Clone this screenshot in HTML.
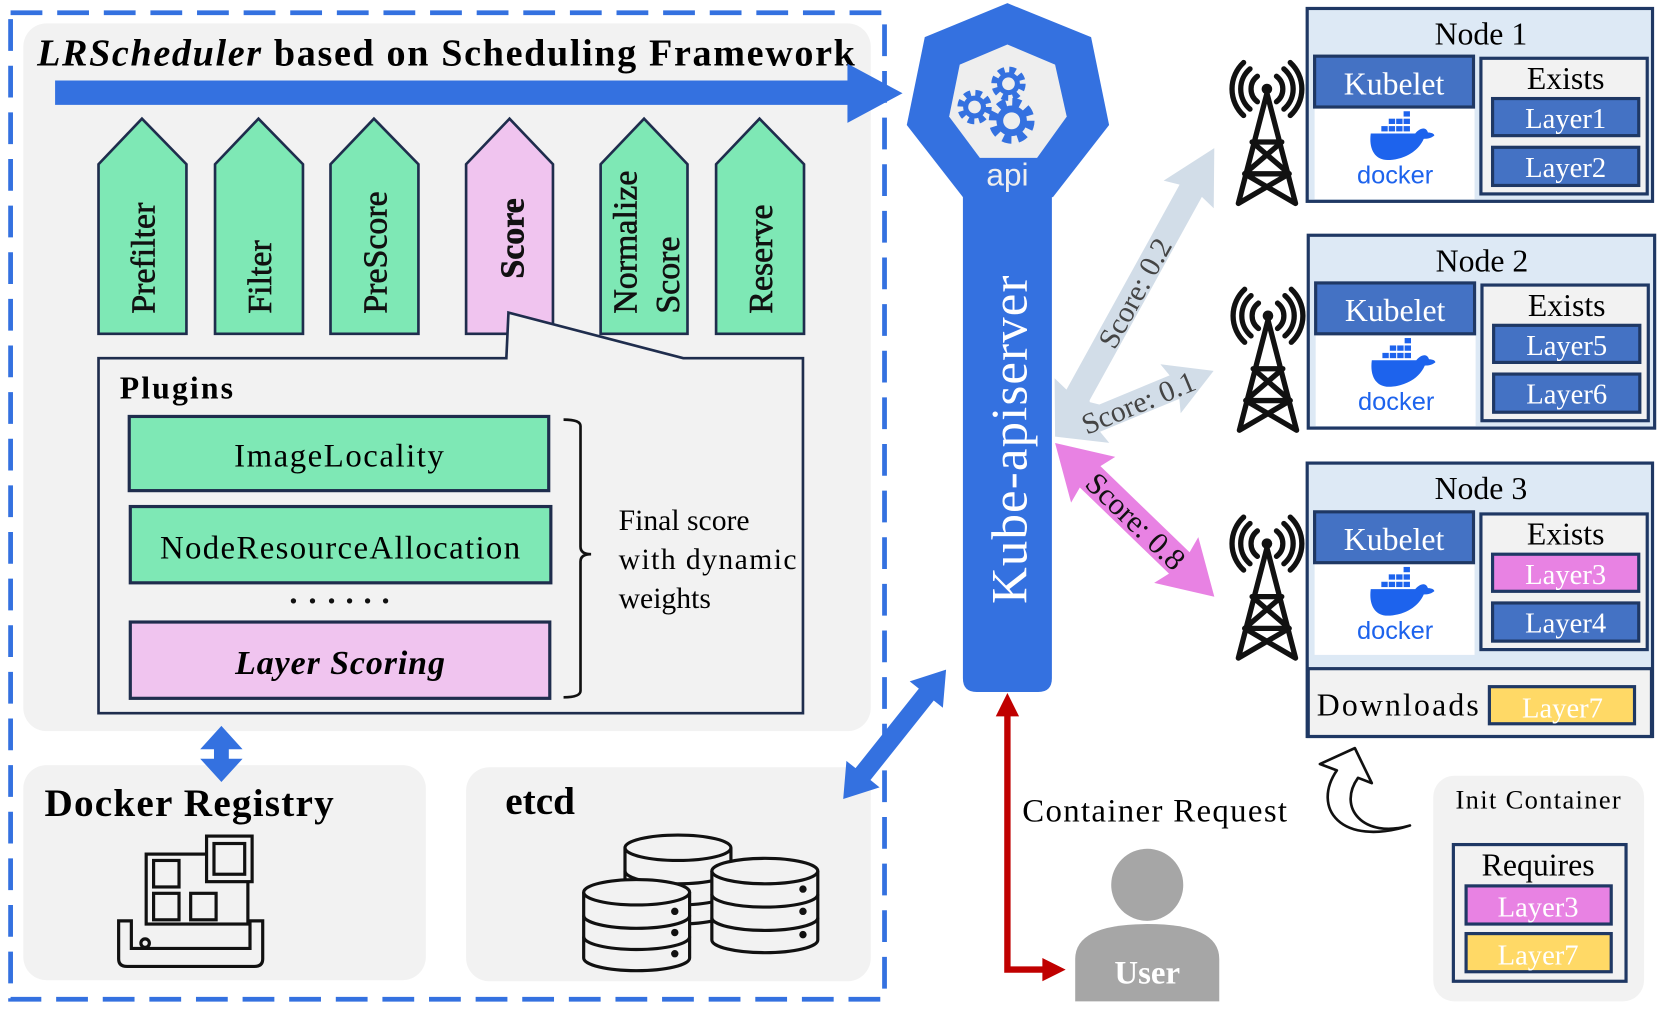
<!DOCTYPE html>
<html><head><meta charset="utf-8"><style>
html,body{margin:0;padding:0;background:#fff;}
svg{display:block;}
text{font-family:"Liberation Serif",serif;}
</style></head><body>
<svg width="1661" height="1012" viewBox="0 0 1568 955" preserveAspectRatio="none" xmlns="http://www.w3.org/2000/svg">
<defs>
<g id="tower" fill="none" stroke="#111" stroke-width="5" stroke-linecap="round">
  <circle cx="0" cy="0" r="5" fill="#111" stroke="none"/>
  <path d="M-9,-12 A15,15 0 0 0 -9,12 M9,-12 A15,15 0 0 1 9,12"/>
  <path d="M-16,-19 A25,25 0 0 0 -16,19 M16,-19 A25,25 0 0 1 16,19"/>
  <path d="M-22,-25 A34,34 0 0 0 -22,25 M22,-25 A34,34 0 0 1 22,25"/>
  <path d="M0,4 L-27,108 M0,4 L27,108 M-14,50 L14,50 M-21,80 L21,80 M-14,50 L21,80 M14,50 L-21,80 M-21,80 L27,108 M21,80 L-27,108"/>
</g>
<g id="whale" fill="#1d63ed">
  <rect x="-14" y="-22" width="6" height="5"/><rect x="-7" y="-22" width="6" height="5"/><rect x="0" y="-22" width="6" height="5"/><rect x="7" y="-22" width="6" height="5"/>
  <rect x="-7" y="-29" width="6" height="5"/><rect x="0" y="-29" width="6" height="5"/><rect x="7" y="-29" width="6" height="5"/>
  <rect x="7" y="-36" width="6" height="5"/>
  <path d="M-24,-15 L18,-15 C22,-20 28,-22 30,-16 C33,-16 36,-15 36,-13 C32,-10 29,-10 26,-10 C20,4 4,10 -8,10 C-20,10 -26,0 -24,-15 Z"/>
</g>
<g id="gear">
  <circle r="10" fill="none" stroke="#3471e0" stroke-width="7" stroke-dasharray="4.5 3.4"/>
  <circle r="9" fill="#3471e0"/>
  <circle r="5" fill="#eeeeee"/>
</g>
</defs>

<rect x="10" y="12" width="825" height="931" fill="none" stroke="#3471e0" stroke-width="4.5" stroke-dasharray="30 14"/>
<rect x="22" y="22" width="800" height="668" rx="22" fill="#f2f2f2"/>
<text x="35" y="62" font-size="36" font-weight="bold" textLength="772"><tspan font-style="italic">LRScheduler</tspan> based on Scheduling Framework</text>
<path d="M52,76 L800,76 L800,60 L852,88 L800,116 L800,99 L52,99 Z" fill="#3471e0"/>

<g stroke="#1f2d4d" stroke-width="2.5">
<path d="M93,315 L93,155 L134,112 L176,155 L176,315 Z" fill="#7ee8b5"/>
<path d="M203,315 L203,155 L244,112 L286,155 L286,315 Z" fill="#7ee8b5"/>
<path d="M312,315 L312,155 L353,112 L395,155 L395,315 Z" fill="#7ee8b5"/>
<path d="M440,315 L440,155 L481,112 L522,155 L522,315 Z" fill="#f0c4ef"/>
<path d="M567,315 L567,155 L608,112 L649,155 L649,315 Z" fill="#7ee8b5"/>
<path d="M676,315 L676,155 L717,112 L759,155 L759,315 Z" fill="#7ee8b5"/>
</g>
<g font-size="32" fill="#111" stroke="#111" stroke-width="0.6">
<text transform="translate(146,296) rotate(-90)">Prefilter</text>
<text transform="translate(256,296) rotate(-90)">Filter</text>
<text transform="translate(365,296) rotate(-90)">PreScore</text>
<text transform="translate(494,225) rotate(-90)" text-anchor="middle" font-weight="bold">Score</text>
<text transform="translate(601,296) rotate(-90)">Normalize</text>
<text transform="translate(641,296) rotate(-90)">Score</text>
<text transform="translate(729,296) rotate(-90)">Reserve</text>
</g>

<path d="M93,338 L478,338 L480,295 L645,338 L758,338 L758,673 L93,673 Z" fill="#f2f2f2" stroke="#1f2d4d" stroke-width="2.5"/>
<text x="113" y="376" font-size="30" font-weight="bold" textLength="107">Plugins</text>
<rect x="122" y="393" width="396" height="70" fill="#7ee8b5" stroke="#1f2d4d" stroke-width="3"/>
<text x="320" y="440" font-size="31" text-anchor="middle" textLength="198">ImageLocality</text>
<rect x="123" y="478" width="397" height="72" fill="#7ee8b5" stroke="#1f2d4d" stroke-width="3"/>
<text x="321" y="527" font-size="31" text-anchor="middle" textLength="340">NodeResourceAllocation</text>
<g fill="#111"><circle cx="277" cy="567" r="2.5"/><circle cx="295" cy="567" r="2.5"/><circle cx="313" cy="567" r="2.5"/><circle cx="330" cy="567" r="2.5"/><circle cx="347" cy="567" r="2.5"/><circle cx="364" cy="567" r="2.5"/></g>
<rect x="123" y="587" width="396" height="72" fill="#f0c4ef" stroke="#1f2d4d" stroke-width="3"/>
<text x="321" y="636" font-size="32" font-weight="bold" font-style="italic" text-anchor="middle" textLength="198">Layer Scoring</text>
<path d="M532,396 Q548,396 548,402 L548,516 Q548,523 558,523 Q548,523 548,530 L548,652 Q548,658 532,658" fill="none" stroke="#111" stroke-width="2.5"/>
<g font-size="28"><text x="584" y="500">Final score</text><text x="584" y="537" textLength="168">with dynamic</text><text x="584" y="574">weights</text></g>

<rect x="22" y="722" width="380" height="203" rx="22" fill="#f2f2f2"/>
<text x="42" y="770" font-size="37" font-weight="bold" textLength="273">Docker Registry</text>
<g fill="none" stroke="#111" stroke-width="3">
<path d="M122,869 L112,869 L112,905 Q112,912 120,912 L240,912 Q248,912 248,905 L248,869 L236,869 L236,895 L124,895 L124,869 Z"/>
<circle cx="137" cy="890" r="4"/>
<rect x="138" y="806" width="96" height="66"/>
<rect x="145" y="812" width="24" height="25"/>
<rect x="145" y="843" width="24" height="25"/>
<rect x="180" y="843" width="24" height="25"/>
<rect x="195" y="789" width="43" height="43" fill="#f2f2f2"/>
<rect x="202" y="796" width="29" height="29"/>
</g>

<rect x="440" y="724" width="382" height="202" rx="22" fill="#f2f2f2"/>
<text x="477" y="768" font-size="37" font-weight="bold">etcd</text>
<g stroke="#111" stroke-width="3" fill="#f2f2f2">
<g transform="translate(640,800)">
<path d="M-50,0 L-50,60 A50,12 0 0 0 50,60 L50,0"/><ellipse cx="0" cy="0" rx="50" ry="12"/>
<path d="M-50,22 A50,12 0 0 0 50,22 M-50,42 A50,12 0 0 0 50,42" fill="none"/>
</g>
<g transform="translate(722,822)">
<path d="M-50,0 L-50,65 A50,12 0 0 0 50,65 L50,0"/><ellipse cx="0" cy="0" rx="50" ry="12"/>
<path d="M-50,22 A50,12 0 0 0 50,22 M-50,44 A50,12 0 0 0 50,44" fill="none"/>
<circle cx="36" cy="17" r="2" fill="#111"/><circle cx="36" cy="38" r="2" fill="#111"/><circle cx="36" cy="60" r="2" fill="#111"/>
</g>
<g transform="translate(601,842)">
<path d="M-50,0 L-50,62 A50,12 0 0 0 50,62 L50,0"/><ellipse cx="0" cy="0" rx="50" ry="12"/>
<path d="M-50,22 A50,12 0 0 0 50,22 M-50,42 A50,12 0 0 0 50,42" fill="none"/>
<circle cx="36" cy="18" r="2" fill="#111"/><circle cx="36" cy="38" r="2" fill="#111"/><circle cx="36" cy="58" r="2" fill="#111"/>
</g>
</g>

<!-- vertical double arrow (drawn after panels) -->
<path d="M209,685 L229,707 L216,707 L216,716 L229,716 L209,738 L189,716 L202,716 L202,707 L189,707 Z" fill="#3471e0"/>

<g transform="translate(796,754) rotate(-51.5)">
<polygon points="0,0 30,-20 30,-9 126,-9 126,-20 156,0 126,20 126,9 30,9 30,20" fill="#3471e0"/>
</g>

<polygon points="951,3 1030,35 1047,118 994,186 909,186 856,118 873,35" fill="#3471e0"/>
<polygon points="951,42 996,61 1007,110 979,149 925,149 896,110 906,61" fill="#eeeeee"/>
<use href="#gear" transform="translate(955,114) scale(1.6)"/>
<use href="#gear" transform="translate(920,101) scale(1.2)"/>
<use href="#gear" transform="translate(952,79) scale(1.2)"/>
<text x="951" y="175" font-size="30" fill="#eeeeee" text-anchor="middle" style="font-family:'Liberation Sans',sans-serif">api</text>
<path d="M909,184 L993,184 L993,640 Q993,653 980,653 L922,653 Q909,653 909,640 Z" fill="#3471e0"/>
<text transform="translate(969,415) rotate(-90)" font-size="48" fill="#fff" text-anchor="middle" textLength="310">Kube-apiserver</text>

<g transform="translate(996,412) rotate(-61.1)">
<polygon points="0,0 48,-27 44,-12 265,-12 261,-27 311,0 261,27 265,12 44,12 48,27" fill="#d2dde8"/>
<text x="155" y="10" font-size="28" fill="#444" text-anchor="middle">Score: 0.2</text>
</g>
<g transform="translate(996,412) rotate(-22.5)">
<polygon points="0,0 45,-25 41,-12 122,-12 118,-25 162,0 118,25 122,12 41,12 45,25" fill="#d2dde8"/>
<text x="85" y="10" font-size="28" fill="#444" text-anchor="middle">Score: 0.1</text>
</g>
<g transform="translate(996,418) rotate(44)">
<polygon points="0,0 50,-30 46,-14 163,-14 159,-30 209,0 159,30 163,14 46,14 50,30" fill="#e882e3"/>
<text x="106" y="10" font-size="29" fill="#111" text-anchor="middle">Score: 0.8</text>
</g>

<path d="M951,668 L951,915 L990,915" fill="none" stroke="#c00000" stroke-width="6"/>
<polygon points="951,654 962,676 940,676" fill="#c00000"/>
<polygon points="1006,915 984,904 984,926" fill="#c00000"/>
<text x="965" y="775" font-size="31" textLength="250">Container Request</text>

<circle cx="1083" cy="835" r="34" fill="#a6a6a6"/>
<path d="M1015,945 L1015,905 Q1015,872 1083,872 Q1151,872 1151,905 L1151,945 Z" fill="#a6a6a6"/>
<text x="1083" y="928" font-size="31" font-weight="bold" fill="#fff" text-anchor="middle">User</text>

<use href="#tower" transform="translate(1196,84)"/>
<use href="#tower" transform="translate(1197,298)"/>
<use href="#tower" transform="translate(1196,513)"/>

<g font-size="30">
<rect x="1234" y="8" width="326" height="182" fill="#dde9f5" stroke="#1f3864" stroke-width="3"/>
<text x="1398" y="42" text-anchor="middle">Node 1</text>
<rect x="1241" y="100" width="151" height="88" fill="#fff"/>
<rect x="1241" y="53" width="150" height="48" fill="#4472c4" stroke="#1f3864" stroke-width="3"/>
<text x="1316" y="89" text-anchor="middle" fill="#fff">Kubelet</text>
<use href="#whale" transform="translate(1318,141)"/>
<text x="1317" y="173" font-size="24" text-anchor="middle" fill="#1d63ed" style="font-family:'Liberation Sans',sans-serif">docker</text>
<rect x="1398" y="55" width="157" height="128" fill="#f2f2f2" stroke="#1f3864" stroke-width="3"/>
<text x="1478" y="84" text-anchor="middle">Exists</text>
<rect x="1409" y="93" width="138" height="35" fill="#4472c4" stroke="#1f3864" stroke-width="3"/>
<text x="1478" y="121" text-anchor="middle" fill="#fff" font-size="27">Layer1</text>
<rect x="1409" y="139" width="138" height="36" fill="#4472c4" stroke="#1f3864" stroke-width="3"/>
<text x="1478" y="167" text-anchor="middle" fill="#fff" font-size="27">Layer2</text>

<rect x="1235" y="222" width="327" height="182" fill="#dde9f5" stroke="#1f3864" stroke-width="3"/>
<text x="1399" y="256" text-anchor="middle">Node 2</text>
<rect x="1242" y="314" width="151" height="88" fill="#fff"/>
<rect x="1242" y="267" width="150" height="48" fill="#4472c4" stroke="#1f3864" stroke-width="3"/>
<text x="1317" y="303" text-anchor="middle" fill="#fff">Kubelet</text>
<use href="#whale" transform="translate(1319,355)"/>
<text x="1318" y="387" font-size="24" text-anchor="middle" fill="#1d63ed" style="font-family:'Liberation Sans',sans-serif">docker</text>
<rect x="1399" y="269" width="157" height="128" fill="#f2f2f2" stroke="#1f3864" stroke-width="3"/>
<text x="1479" y="298" text-anchor="middle">Exists</text>
<rect x="1410" y="307" width="138" height="35" fill="#4472c4" stroke="#1f3864" stroke-width="3"/>
<text x="1479" y="335" text-anchor="middle" fill="#fff" font-size="27">Layer5</text>
<rect x="1410" y="353" width="138" height="36" fill="#4472c4" stroke="#1f3864" stroke-width="3"/>
<text x="1479" y="381" text-anchor="middle" fill="#fff" font-size="27">Layer6</text>

<rect x="1234" y="437" width="326" height="258" fill="#dde9f5" stroke="#1f3864" stroke-width="3"/>
<text x="1398" y="471" text-anchor="middle">Node 3</text>
<rect x="1241" y="530" width="151" height="88" fill="#fff"/>
<rect x="1241" y="483" width="150" height="48" fill="#4472c4" stroke="#1f3864" stroke-width="3"/>
<text x="1316" y="519" text-anchor="middle" fill="#fff">Kubelet</text>
<use href="#whale" transform="translate(1318,571)"/>
<text x="1317" y="603" font-size="24" text-anchor="middle" fill="#1d63ed" style="font-family:'Liberation Sans',sans-serif">docker</text>
<rect x="1398" y="485" width="157" height="128" fill="#f2f2f2" stroke="#1f3864" stroke-width="3"/>
<text x="1478" y="514" text-anchor="middle">Exists</text>
<rect x="1409" y="523" width="138" height="35" fill="#e882e3" stroke="#1f3864" stroke-width="3"/>
<text x="1478" y="551" text-anchor="middle" fill="#fff" font-size="27">Layer3</text>
<rect x="1409" y="569" width="138" height="36" fill="#4472c4" stroke="#1f3864" stroke-width="3"/>
<text x="1478" y="597" text-anchor="middle" fill="#fff" font-size="27">Layer4</text>
<rect x="1235" y="631" width="324" height="64" fill="#f2f2f2" stroke="#1f3864" stroke-width="3"/>
<text x="1243" y="675" textLength="153">Downloads</text>
<rect x="1406" y="648" width="137" height="35" fill="#ffd966" stroke="#1f3864" stroke-width="3"/>
<text x="1475" y="677" text-anchor="middle" fill="#fff" font-size="27">Layer7</text>
</g>

<path d="M1279,706 L1246,721 L1262,727 C1238,762 1265,800 1331,779 C1287,792 1262,762 1282,734 L1295,739 Z" fill="#fff" stroke="#111" stroke-width="2.5" stroke-linejoin="round"/>

<rect x="1353" y="732" width="199" height="213" rx="20" fill="#f2f2f2"/>
<text x="1452" y="763" font-size="25" text-anchor="middle" textLength="156">Init Container</text>
<rect x="1372" y="797" width="163" height="129" fill="#f2f2f2" stroke="#1f3864" stroke-width="3"/>
<text x="1452" y="826" font-size="30" text-anchor="middle">Requires</text>
<rect x="1384" y="836" width="137" height="36" fill="#e882e3" stroke="#1f3864" stroke-width="3"/>
<text x="1452" y="865" font-size="27" text-anchor="middle" fill="#fff">Layer3</text>
<rect x="1384" y="881" width="137" height="36" fill="#ffd966" stroke="#1f3864" stroke-width="3"/>
<text x="1452" y="910" font-size="27" text-anchor="middle" fill="#fff">Layer7</text>
</svg>
</body></html>
